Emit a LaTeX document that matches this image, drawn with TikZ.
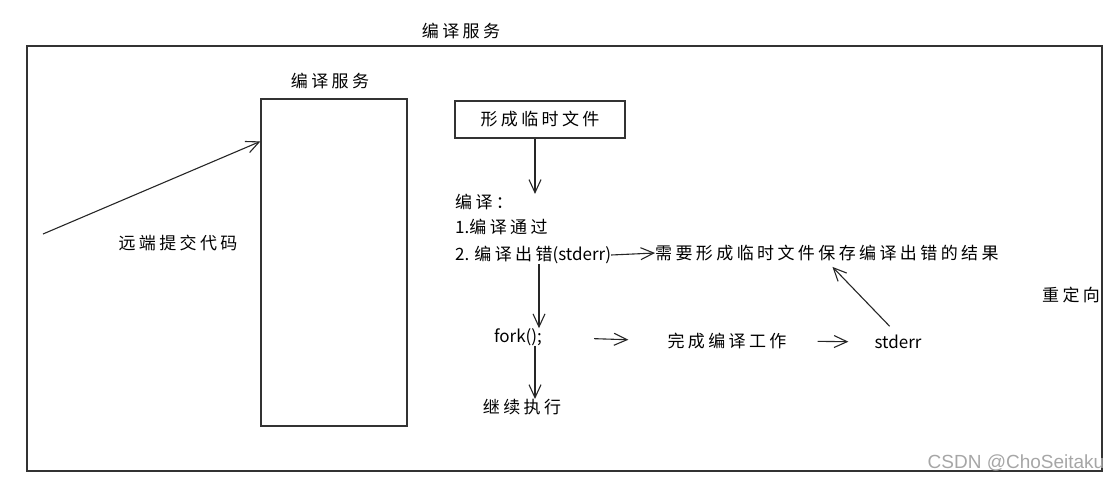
\documentclass[tikz,border=0pt]{standalone}
\usepackage{fontspec}
\usepackage{xcolor}
\usetikzlibrary{arrows.meta}
\newfontfamily\cjk[LetterSpace=20]{Noto Sans CJK SC}
\newfontfamily\lat{Noto Sans CJK SC}
\newfontfamily\wmfont{Liberation Sans}

\begin{document}
\begin{tikzpicture}[x=1pt,y=-1pt]
    \pgfmathsetmacro{\fs}{17}
    \tikzset{
        txt/.style={inner sep=0pt,font=\fontsize{\fs}{\fs}\selectfont\cjk},
        latin/.style={inner sep=0pt,font=\fontsize{\fs}{\fs}\selectfont\lat},
        frame/.style={draw=black!80,line width=1.2pt,inner sep=0pt},
        arr/.style={draw=black!85,line width=1.1pt,-{Straight Barb[length=13pt,width=12pt]}},
    }
    \useasboundingbox (0,0) rectangle (1115,487);
    \node[frame,minimum width=1075pt,minimum height=425pt] (outer) at (564.5,258.5) {};
    \node[txt] (title) at (461,31) {编译服务};
    \node[frame,minimum width=146pt,minimum height=327pt] (svc) at (334,262.5) {};
    \node[txt] (svctitle) at (330,81) {编译服务};
    \coordinate (src) at (43,234);
    \draw[arr] (src) -- ([yshift=-43pt]svc.north west);
    \node[txt] (remote) at (178,243) {远端提交代码};
    \node[frame,minimum width=170pt,minimum height=37pt,font=\fontsize{\fs}{\fs}\selectfont\cjk] (tmp) at (540,119.5) {形成临时文件};
    \node[txt,anchor=west] (l0) at (455,202) {编译：};
    \node[txt,anchor=west] (l1) at (455,227) {{\lat 1.}编译通过};
    \node[txt,anchor=west] (l2) at (455,255) {{\lat 2. }编译出错{\lat(stderr)}};
    \draw[arr] ([xshift=-5pt]tmp.south) -- ([xshift=-5pt]tmp.south |- l0.north);
    \node[txt,anchor=west] (need) at (655,253) {需要形成临时文件保存编译出错的结果};
    \draw[arr] (l2.east) -- (need.west);
    \node[latin] (fork) at (518,337) {fork();};
    \draw[arr] (l2.south -| 539,0) -- (fork.north -| 539,0);
    \node[txt] (work) at (727,341) {完成编译工作};
    \node[latin] (err) at (898,342) {stderr};
    \draw[arr,shorten <=52pt,shorten >=39pt] (fork.east) -- (work.west);
    \draw[arr,shorten <=31pt,shorten >=26pt] (work.east) -- (err.west);
    \draw[arr,shorten <=12pt,shorten >=8pt] (err.north) -- (need.south);
    \node[txt] (cont) at (522,407) {继续执行};
    \draw[arr] ([xshift=17pt]fork.south) -- ([xshift=13pt]cont.north);
    \node[txt] (redir) at (1071,295) {重定向};
    \node[inner sep=0pt,text=black!35,font=\fontsize{19}{19}\selectfont\wmfont] (mark) at (1016,463) {CSDN @ChoSeitaku};
\end{tikzpicture}
\end{document}
